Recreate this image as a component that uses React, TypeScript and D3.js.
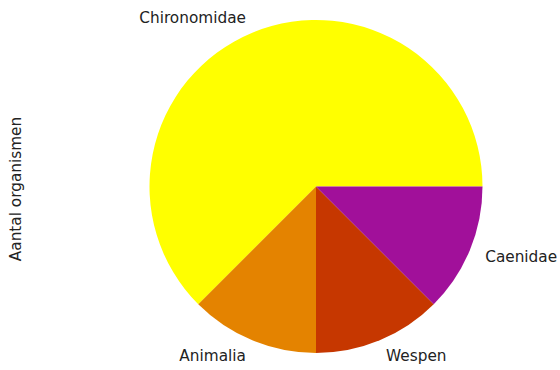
import React from "react";
import * as d3 from "d3";

const categories = ["Chironomidae", "Animalia", "Wespen", "Caenidae"];
const values = [5, 1, 1, 1];
const colors = ["#ffff00", "#e48300", "#c63700", "#a1109a"];
const yLabel = "Aantal organismen";

export default function App() {
  const W = 560, H = 370;
  const cx = 316, cy = 186.5, r = 166.5;
  const total = d3.sum(values);
  // matplotlib: start at 3 o'clock, counterclockwise
  const angle = d3.scaleLinear().domain([0, total]).range([0, 2 * Math.PI]);
  let cum = 0;
  const slices = values.map((v, i) => {
    const a0 = angle(cum);
    cum += v;
    const a1 = angle(cum);
    return { a0, a1, i };
  });
  const toD3 = (a: number) => Math.PI / 2 - a;
  const arc = d3.arc<any>().innerRadius(0).outerRadius(r);
  return (
    <svg width={W} height={H} style={{ position: "absolute", left: 0, top: 0, background: "#fff" }}
      fontFamily="DejaVu Sans" fontSize={15.3}>
      <g transform={`translate(${cx},${cy})`}>
        {slices.map((s) => (
          <path key={s.i}
            d={arc({ startAngle: toD3(s.a1), endAngle: toD3(s.a0) }) as string}
            fill={colors[s.i]} />
        ))}
        {slices.map((s) => {
          const m = (s.a0 + s.a1) / 2;
          const x = 1.1 * r * Math.cos(m);
          const y = -1.1 * r * Math.sin(m);
          return (
            <text key={"t" + s.i} x={x} y={y} dy="0.35em" textAnchor={x < 0 ? "end" : "start"} fill="#222">
              {categories[s.i]}
            </text>
          );
        })}
      </g>
      <text transform={`translate(21,189) rotate(-90)`} textAnchor="middle" fill="#222">{yLabel}</text>
    </svg>
  );
}
